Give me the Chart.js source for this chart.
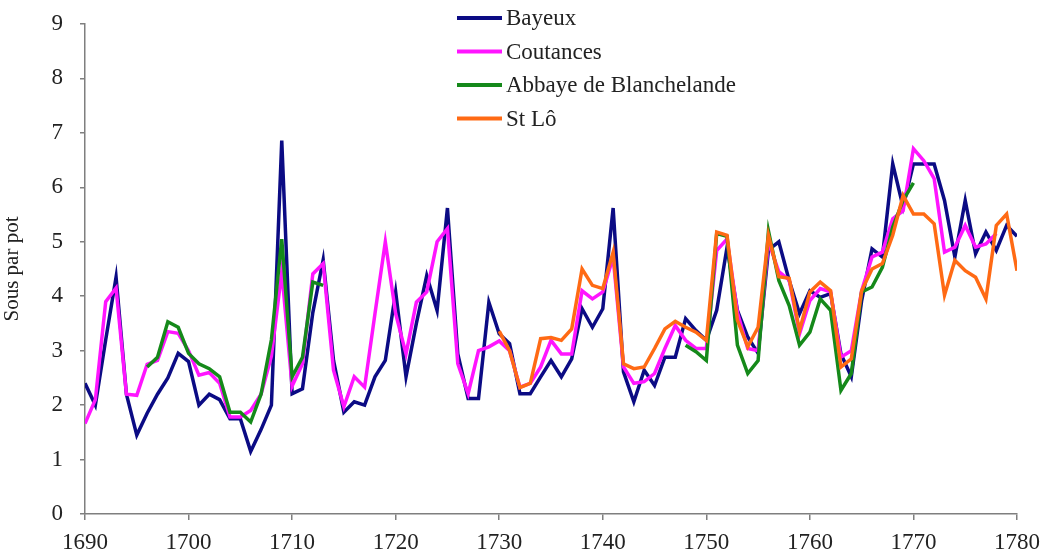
<!DOCTYPE html>
<html>
<head>
<meta charset="utf-8">
<script src="https://cdn.jsdelivr.net/npm/chart.js@4"></script>
<style>
  html, body { margin: 0; padding: 0; background: #fff; }
  #wrap { width: 1043px; height: 555px; position: relative; }
</style>
</head>
<body>
<div id="wrap"><canvas id="chart" width="1043" height="555"></canvas></div>
<script>
// années 1690 - 1780
const years = [];
for (let y = 1690; y <= 1780; y++) years.push(y);

const seriesNames = ['Bayeux', 'Coutances', 'Abbaye de Blanchelande', 'St Lô'];

const bayeux = [
  2.4, 2.0, 3.2, 4.35, 2.2, 1.45, 1.85, 2.2, 2.5, 2.95,
  2.8, 2.0, 2.2, 2.1, 1.75, 1.75, 1.15, 1.55, 2.0, 6.86,
  2.21, 2.3, 3.7, 4.67, 2.82, 1.87, 2.06, 2.0, 2.52, 2.82,
  4.08, 2.52, 3.5, 4.38, 3.74, 5.62, 2.94, 2.12, 2.12, 3.89,
  3.31, 3.13, 2.21, 2.21, 2.52, 2.82, 2.52, 2.85, 3.77, 3.43,
  3.77, 5.62, 2.61, 2.06, 2.64, 2.36, 2.88, 2.88, 3.59, 3.37,
  3.19, 3.74, 4.9, 3.74, 3.25, 2.95, 4.85, 5.0, 4.29, 3.68,
  4.1, 3.98, 4.05, 2.94, 2.52, 3.92, 4.87, 4.72, 6.43, 5.64,
  6.43, 6.43, 6.43, 5.76, 4.72, 5.76, 4.78, 5.18, 4.84, 5.3,
  5.1
];

const coutances = [
  1.66, 2.1, 3.9, 4.15, 2.2, 2.18, 2.75, 2.82, 3.35, 3.32,
  3.0, 2.55, 2.6, 2.4, 1.78, 1.78, 1.9, 2.2, 2.9, 4.45,
  2.35, 2.76, 4.41, 4.6, 2.64, 1.97, 2.52, 2.33, 3.68, 5.0,
  3.68, 2.94, 3.89, 4.08, 5.0, 5.24, 2.76, 2.21, 3.0, 3.07,
  3.18, 3.0, 2.33, 2.4, 2.7, 3.19, 2.94, 2.94, 4.1, 3.95,
  4.08, 4.72, 2.7, 2.4, 2.43, 2.58, 3.04, 3.46, 3.19, 3.04,
  3.04, 4.84, 5.05, 3.7, 3.04, 3.0, 5.0, 4.45, 4.3, 3.31,
  3.92, 4.14, 4.08, 2.88, 3.0, 4.1, 4.72, 4.81, 5.42, 5.57,
  6.71, 6.49, 6.16, 4.81, 4.9, 5.3, 4.9, 4.96, 5.15, null,
  null
];

const blanchelande = [
  null, null, null, null, null, null, 2.7, 2.88, 3.53, 3.43,
  2.95, 2.76, 2.67, 2.52, 1.87, 1.87, 1.69, 2.2, 3.2, 5.05,
  2.52, 2.88, 4.26, 4.2, null, null, null, null, null, null,
  null, null, null, null, null, null, null, null, null, null,
  null, null, null, null, null, null, null, null, null, null,
  null, null, null, null, null, null, null, null, 3.1, 2.98,
  2.82, 5.15, 5.1, 3.1, 2.58, 2.82, 5.2, 4.29, 3.83, 3.1,
  3.34, 3.95, 3.74, 2.27, 2.58, 4.08, 4.17, 4.53, 5.27, 5.76,
  6.08, null, null, null, null, null, null, null, null, null,
  null
];

const stLo = [
  null, null, null, null, null, null, null, null, null, null,
  null, null, null, null, null, null, null, null, null, null,
  null, null, null, null, null, null, null, null, null, null,
  null, null, null, null, null, null, null, null, null, null,
  3.36, 3.0, 2.32, 2.4, 3.22, 3.24, 3.19, 3.4, 4.5, 4.2,
  4.14, 4.81, 2.76, 2.67, 2.7, 3.04, 3.4, 3.54, 3.43, 3.34,
  3.19, 5.18, 5.12, 3.56, 3.07, 3.43, 5.12, 4.36, 4.33, 3.37,
  4.08, 4.26, 4.1, 2.7, 2.85, 4.1, 4.5, 4.6, 5.12, 5.85,
  5.51, 5.51, 5.33, 4.02, 4.66, 4.47, 4.35, 3.95, 5.3, 5.51,
  4.47
];

const colors = ['#0b0b84', '#ff14ff', '#15891a', '#ff6a14'];
const allSeries = [bayeux, coutances, blanchelande, stLo];

const serif = "'Liberation Serif', 'DejaVu Serif', serif";
const axisColor = '#7f7f7f';

function toPoints(vals) {
  return years.map((yr, i) => ({ x: yr, y: vals[i] }));
}

// légende verticale au-dessus des courbes
const serieLegend = {
  id: 'serieLegend',
  afterDraw(chart) {
    const ctx = chart.ctx;
    ctx.save();
    ctx.font = '23px ' + serif;
    ctx.textBaseline = 'middle';
    chart.data.datasets.forEach((ds, i) => {
      const y = 18 + i * 33.5;
      ctx.strokeStyle = ds.borderColor;
      ctx.lineWidth = 4;
      ctx.beginPath();
      ctx.moveTo(457, y);
      ctx.lineTo(502, y);
      ctx.stroke();
      ctx.fillStyle = '#222';
      ctx.fillText(ds.label, 506, y + 1);
    });
    ctx.restore();
  }
};

const datasets = seriesNames.map((name, i) => ({
  label: name,
  data: toPoints(allSeries[i]),
  borderColor: colors[i],
  backgroundColor: colors[i],
  borderWidth: 3.5,
  pointRadius: 0,
  tension: 0,
  spanGaps: false,
  order: 4 - i
}));

new Chart(document.getElementById('chart'), {
  type: 'line',
  data: { datasets: datasets },
  options: {
    responsive: false,
    animation: false,
    layout: { padding: { left: 0, right: 26, top: 24, bottom: 0 } },
    plugins: {
      legend: { display: false },
      tooltip: { enabled: false }
    },
    scales: {
      x: {
        type: 'linear',
        min: 1690,
        max: 1780,
        afterFit(scale) {
          scale.height = 41;
          scale.paddingLeft = 0;
          scale.paddingRight = 0;
        },
        ticks: {
          stepSize: 10,
          color: '#222',
          font: { family: serif, size: 23 },
          padding: 9,
          maxRotation: 0,
          callback: v => String(v)
        },
        grid: { drawOnChartArea: false, drawTicks: true, tickLength: 6, color: axisColor, lineWidth: 1.5 },
        border: { color: axisColor, width: 1.5 }
      },
      y: {
        min: 0,
        max: 9,
        afterFit(scale) {
          scale.width = 85;
          scale.paddingTop = 0;
          scale.paddingBottom = 0;
        },
        ticks: {
          stepSize: 1,
          color: '#222',
          font: { family: serif, size: 23 },
          padding: 17
        },
        grid: { drawOnChartArea: false, drawTicks: true, tickLength: 5, color: axisColor, lineWidth: 1.5 },
        border: { color: axisColor, width: 1.5 },
        title: {
          display: true,
          text: 'Sous par pot',
          color: '#222',
          font: { family: serif, size: 21 },
          padding: { top: 0, bottom: 4 }
        }
      }
    }
  },
  plugins: [serieLegend]
});
</script>
</body>
</html>
